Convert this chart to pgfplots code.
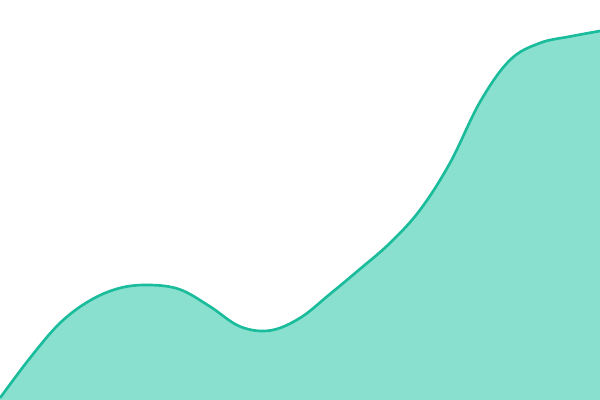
\documentclass[border=0pt]{standalone}
\usepackage{pgfplots}
\pgfplotsset{compat=1.18}
\definecolor{turq}{HTML}{1ABC9C}
\definecolor{turqfill}{HTML}{8AE0CF}
\pgfplotstableread{
x y
0 2
30 42
60 77
90 99.5
120 112
150 115
180 110.5
210 93.5
240 73.5
270 69.5
300 82
330 106
360 131
390 157
420 190
450 237
480 298
510 340
540 357
570 363.5
600 369
}\areadata
\begin{document}
\begin{tikzpicture}
\begin{axis}[
  width=6.25in, height=4.1667in, scale only axis,
  xmin=0, xmax=600, ymin=0, ymax=400,
  axis line style={draw=none}, ticks=none, clip=true]
\addplot[draw=none, fill=turqfill, smooth, tension=0.6] table {\areadata} \closedcycle;
\addplot[draw=turq, line width=2pt, smooth, tension=0.6] table {\areadata};
\end{axis}
\end{tikzpicture}
\end{document}
